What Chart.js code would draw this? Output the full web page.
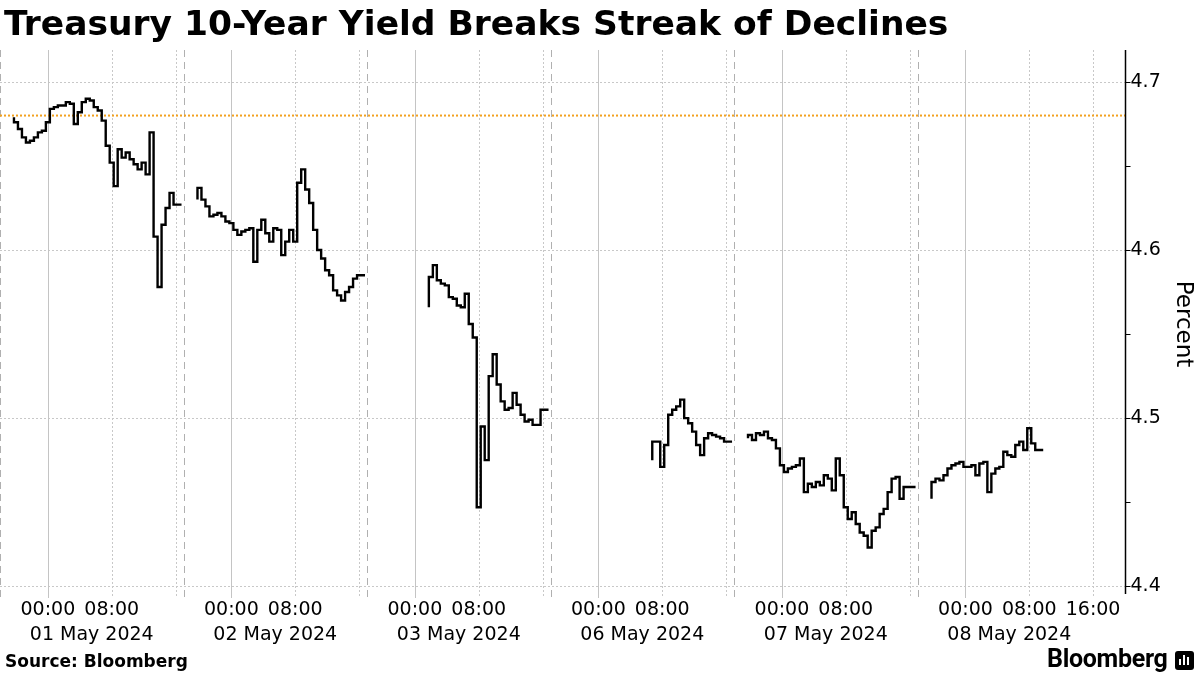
<!DOCTYPE html>
<html>
<head>
<meta charset="utf-8">
<script src="https://cdn.jsdelivr.net/npm/chart.js@4.4.1/dist/chart.umd.min.js"></script>
<style>
  html, body { margin: 0; padding: 0; background: #fff; }
  #wrap { position: relative; width: 1200px; height: 675px; overflow: hidden; font-family: "DejaVu Sans", sans-serif; color: #000; }
  #title { position: absolute; left: 4px; top: 0px; font-weight: bold; font-size: 34.5px; line-height: 46px; white-space: nowrap; }
  #cv { position: absolute; left: 0; top: 0; }
  #source { position: absolute; left: 5px; top: 650px; font-weight: bold; font-size: 17px; line-height: 22px; }
  #brand { position: absolute; left: 1047px; top: 643px; font-family: Roboto, sans-serif; font-weight: 700; font-size: 25px; line-height: 32px; letter-spacing: -0.3px; }
  #logo { position: absolute; left: 1175px; top: 651px; width: 19px; height: 19px; background: #000; border-radius: 3px; }
  #logo i { position: absolute; bottom: 5px; width: 2px; background: #fff; }
</style>
</head>
<body>
<div id="wrap">
  <canvas id="cv" width="1200" height="675"></canvas>
  <div id="title">Treasury 10-Year Yield Breaks Streak of Declines</div>
  <div id="source">Source: Bloomberg</div>
  <div id="brand">Bloomberg</div>
  <div id="logo"><i style="left:4px;height:6px"></i><i style="left:8px;height:10px"></i><i style="left:12px;height:8px"></i></div>
</div>
<script>
'use strict';

/* ── DATA ── */
// x runs in trading hours: each session is 23h (18:00 prev day → 17:00), weekend removed
const SESSION_HOURS = 23;
const STEP = 0.5; // hours between readings
const sessionDays  = ['01 May 2024', '02 May 2024', '03 May 2024', '06 May 2024', '07 May 2024', '08 May 2024'];
const sessionStart = [2, 2, 8, 13, 2, 2]; // first print, hours after session open
const timeLabels   = ['00:00', '08:00', '16:00'];
const timeOffsets  = [6, 14, 22];
const yTicks  = [4.4, 4.5, 4.6, 4.7];
const yMinor  = [4.45, 4.55, 4.65];
const refLevel = 4.68;

const may01 = [4.679, 4.676, 4.672, 4.667, 4.664, 4.665, 4.667, 4.670, 4.671, 4.676,
               4.684, 4.685, 4.686, 4.686, 4.688, 4.687, 4.675, 4.682, 4.688, 4.690,
               4.689, 4.685, 4.683, 4.677, 4.662, 4.652, 4.638, 4.660, 4.655, 4.658,
               4.654, 4.651, 4.648, 4.652, 4.645, 4.670, 4.608, 4.578, 4.615, 4.625,
               4.634, 4.627];
const may02 = [4.630, 4.637, 4.630, 4.626, 4.620, 4.621, 4.622, 4.620, 4.617, 4.616,
               4.612, 4.609, 4.611, 4.612, 4.613, 4.593, 4.612, 4.618, 4.610, 4.605,
               4.613, 4.612, 4.597, 4.605, 4.612, 4.605, 4.640, 4.648, 4.636, 4.628,
               4.612, 4.600, 4.595, 4.588, 4.585, 4.576, 4.573, 4.570, 4.575, 4.578,
               4.583, 4.585];
const may03 = [4.566, 4.584, 4.591, 4.582, 4.580, 4.579, 4.572, 4.571, 4.567, 4.566,
               4.574, 4.556, 4.548, 4.447, 4.495, 4.475, 4.525, 4.538, 4.520, 4.510,
               4.505, 4.506, 4.515, 4.508, 4.502, 4.498, 4.499, 4.496, 4.496, 4.505];
const may06 = [4.475, 4.486, 4.486, 4.471, 4.484, 4.502, 4.505, 4.507, 4.511, 4.500,
               4.497, 4.492, 4.484, 4.478, 4.488, 4.491, 4.490, 4.489, 4.488, 4.486];
const may07 = [4.488, 4.490, 4.487, 4.491, 4.490, 4.492, 4.488, 4.487, 4.482, 4.472,
               4.468, 4.470, 4.471, 4.472, 4.476, 4.456, 4.461, 4.459, 4.462, 4.460,
               4.466, 4.464, 4.457, 4.476, 4.466, 4.447, 4.440, 4.444, 4.437, 4.432,
               4.430, 4.423, 4.433, 4.435, 4.443, 4.446, 4.456, 4.464, 4.465, 4.452,
               4.459, 4.459];
const may08 = [4.452, 4.462, 4.464, 4.463, 4.466, 4.470, 4.472, 4.473, 4.474, 4.471,
               4.471, 4.472, 4.466, 4.473, 4.474, 4.456, 4.467, 4.470, 4.471, 4.480,
               4.478, 4.477, 4.484, 4.486, 4.481, 4.494, 4.485, 4.481];
const sessions = [may01, may02, may03, may06, may07, may08];

/* ── BUILD POINTS (null between sessions → gaps) ── */
// each reading is held for STEP hours, centred on its time
const points = [];
sessions.forEach((vals, k) => {
  const base = k * SESSION_HOURS + sessionStart[k] - STEP / 2;
  vals.forEach((v, i) => points.push({ x: base + i * STEP, y: v }));
  points.push({ x: base + vals.length * STEP, y: vals[vals.length - 1] });
  points.push({ x: base + vals.length * STEP + 0.01, y: null });
});

const X_MAX = 141;
const FONT = '"DejaVu Sans", sans-serif';

/* ── AXES + GRID PLUGIN ── */
const bbgAxes = {
  id: 'bbgAxes',
  beforeDatasetsDraw(chart) {
    const { ctx, chartArea: a, scales: { x, y } } = chart;
    const vline = (v, color, dash) => {
      const px = Math.round(x.getPixelForValue(v)) + 0.5;
      ctx.strokeStyle = color; ctx.setLineDash(dash);
      ctx.beginPath(); ctx.moveTo(px, a.top); ctx.lineTo(px, a.bottom); ctx.stroke();
    };
    ctx.save();
    ctx.lineWidth = 1;
    // horizontal grid
    yTicks.forEach(v => {
      const py = Math.round(y.getPixelForValue(v)) + 0.5;
      ctx.strokeStyle = '#c8c8c8'; ctx.setLineDash([2, 2]);
      ctx.beginPath(); ctx.moveTo(a.left, py); ctx.lineTo(a.right, py); ctx.stroke();
    });
    // vertical grid: session break, then 00:00 / 08:00 / 16:00
    sessionDays.forEach((d, k) => {
      const s = k * SESSION_HOURS;
      vline(s, '#b0b0b0', [7, 5]);
      vline(s + timeOffsets[0], '#c4c4c4', []);
      vline(s + timeOffsets[1], '#c8c8c8', [2, 2]);
      vline(s + timeOffsets[2], '#c8c8c8', [2, 2]);
    });
    ctx.restore();
  },
  afterDraw(chart) {
    const { ctx, chartArea: a, scales: { x, y } } = chart;
    ctx.save();
    // right axis line + ticks
    const ax = a.right + 0.5;
    ctx.strokeStyle = '#000'; ctx.lineWidth = 1.5;
    ctx.beginPath(); ctx.moveTo(ax, a.top); ctx.lineTo(ax, a.bottom - 4); ctx.stroke();
    ctx.lineWidth = 1;
    [...yTicks, ...yMinor].forEach(v => {
      const py = Math.round(y.getPixelForValue(v)) + 0.5;
      ctx.beginPath(); ctx.moveTo(ax, py); ctx.lineTo(ax + 5, py); ctx.stroke();
    });
    // y labels
    ctx.fillStyle = '#000';
    ctx.font = '19px ' + FONT;
    ctx.textAlign = 'left'; ctx.textBaseline = 'middle';
    yTicks.forEach(v => ctx.fillText(v.toFixed(1), ax + 5, y.getPixelForValue(v)));
    // axis title
    ctx.save();
    ctx.translate(1183, (a.top + a.bottom) / 2);
    ctx.rotate(Math.PI / 2);
    ctx.textAlign = 'center';
    ctx.font = '23px ' + FONT;
    ctx.fillText('Percent', 0, 0);
    ctx.restore();
    // x labels
    ctx.textAlign = 'center'; ctx.textBaseline = 'middle';
    const last = sessionDays.length - 1;
    sessionDays.forEach((d, k) => {
      const s = k * SESSION_HOURS;
      timeLabels.forEach((t, j) => {
        if (j === 2 && k !== last) return;
        ctx.fillText(t, x.getPixelForValue(s + timeOffsets[j]), 610);
      });
      ctx.fillText(d, x.getPixelForValue(s + 11.5), 635);
    });
    ctx.restore();
  }
};

new Chart(document.getElementById('cv'), {
  type: 'line',
  data: {
    datasets: [
      {
        label: 'USGG10YR',
        data: points,
        borderColor: '#000',
        borderWidth: 2.4,
        stepped: 'after',
        pointRadius: 0,
        spanGaps: false,
        fill: false
      },
      {
        label: 'Reference',
        data: [{ x: 0, y: refLevel }, { x: X_MAX, y: refLevel }],
        borderColor: '#f2a11f',
        borderWidth: 2,
        borderDash: [2, 2],
        pointRadius: 0,
        fill: false
      }
    ]
  },
  options: {
    responsive: false,
    animation: false,
    events: [],
    layout: { padding: { top: 50, right: 75, bottom: 77, left: 0 } },
    plugins: { legend: { display: false }, tooltip: { enabled: false }, title: { display: false } },
    scales: {
      x: { type: 'linear', min: 0, max: X_MAX, display: false },
      y: { type: 'linear', min: 4.393, max: 4.719, display: false }
    }
  },
  plugins: [bbgAxes]
});
</script>
</body>
</html>
